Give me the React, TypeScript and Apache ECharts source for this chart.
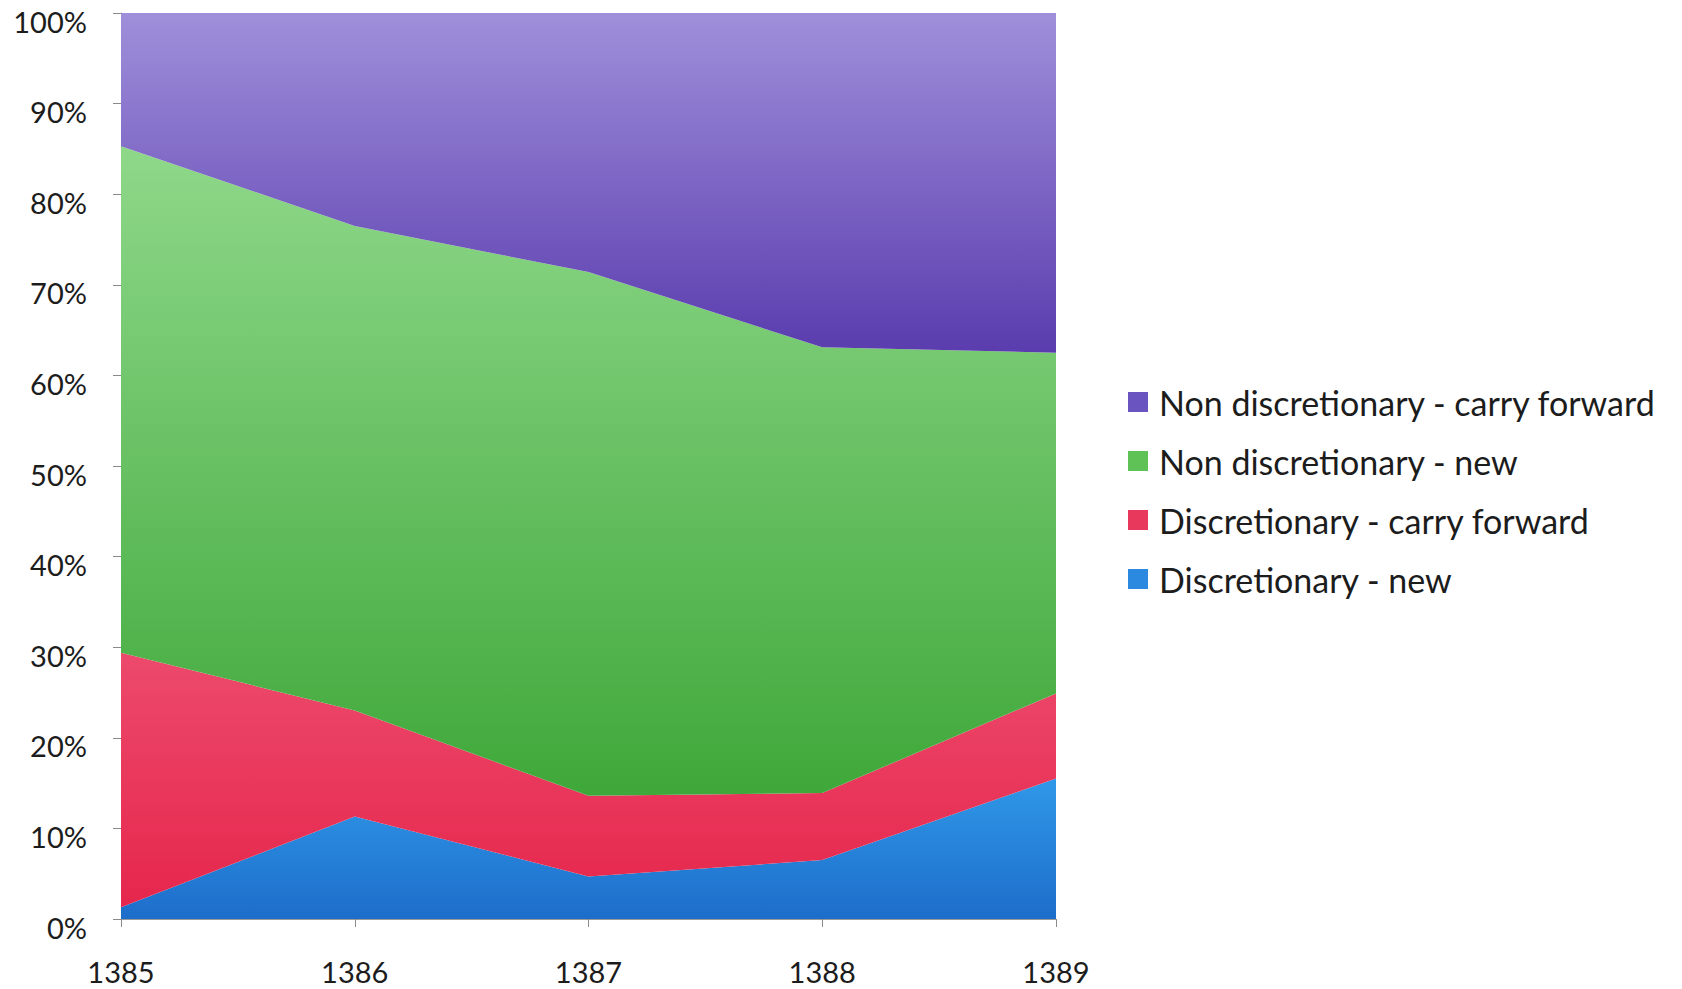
import React, { useEffect, useRef } from "react";
import * as echarts from "echarts";

const categories = ["1385", "1386", "1387", "1388", "1389"];
const seriesNames = [
  "Discretionary - new",
  "Discretionary - carry forward",
  "Non discretionary - new",
  "Non discretionary - carry forward",
];
const discNew = [1.3, 11.3, 4.7, 6.5, 15.5];
const discCarry = [28.1, 11.7, 8.9, 7.4, 9.4];
const nonDiscNew = [55.9, 53.5, 57.8, 49.2, 37.6];
const nonDiscCarry = [14.7, 23.5, 28.6, 36.9, 37.5];
const seriesValues = [discNew, discCarry, nonDiscNew, nonDiscCarry];

const solidColors = ["#2b8ae0", "#e8395c", "#5fc257", "#6a55c0"];
const gradientStops: [string, string][] = [
  ["#3098e8", "#1d6dca"],
  ["#ec4a6c", "#e6264c"],
  ["#8fd88a", "#3fa83a"],
  ["#9f8fda", "#5a3cae"],
];

export default function App() {
  const ref = useRef<HTMLDivElement>(null);
  useEffect(() => {
    document.body.style.margin = "0";
    const chart = echarts.init(ref.current!, undefined, { renderer: "svg" });
    const font = "Lato";
    chart.setOption({
      animation: false,
      backgroundColor: "#ffffff",
      grid: { left: 121, right: 626, top: 13, bottom: 70, containLabel: false },
      legend: {
        orient: "vertical",
        left: 1128,
        top: 385,
        padding: 0,
        icon: "rect",
        itemWidth: 20,
        itemHeight: 20,
        itemGap: 25,
        data: [...seriesNames].reverse(),
        textStyle: {
          fontFamily: font,
          fontSize: 34,
          lineHeight: 34,
          color: "#1c1c1c",
          padding: [0, 0, 0, 6],
        },
      },
      xAxis: {
        type: "category",
        boundaryGap: false,
        data: categories,
        axisLine: { show: true, lineStyle: { color: "#9a9a9a", width: 1 } },
        axisTick: { show: true, length: 8, lineStyle: { color: "#8a8a8a" } },
        axisLabel: {
          fontFamily: font,
          fontSize: 29,
          color: "#1c1c1c",
          margin: 38,
        },
        splitLine: { show: false },
      },
      yAxis: {
        type: "value",
        min: 0,
        max: 100,
        interval: 10,
        axisLine: { show: true, lineStyle: { color: "#9a9a9a", width: 1 } },
        axisTick: { show: true, length: 8, lineStyle: { color: "#8a8a8a" } },
        axisLabel: {
          fontFamily: font,
          fontSize: 29,
          color: "#1c1c1c",
          margin: 34,
          formatter: "{value}%",
          verticalAlign: "top",
          lineHeight: 16,
        },
        splitLine: { show: false },
      },
      series: seriesValues.map((vals, i) => ({
        name: seriesNames[i],
        type: "line",
        stack: "total",
        data: vals,
        color: solidColors[i],
        showSymbol: false,
        symbol: "none",
        lineStyle: { width: 0 },
        itemStyle: { color: solidColors[i] },
        areaStyle: {
          opacity: 1,
          color: new echarts.graphic.LinearGradient(0, 0, 0, 1, [
            { offset: 0, color: gradientStops[i][0] },
            { offset: 1, color: gradientStops[i][1] },
          ]),
        },
      })),
    });
    return () => chart.dispose();
  }, []);
  return (
    <div
      ref={ref}
      style={{ position: "absolute", left: 0, top: 0, width: 1682, height: 989 }}
    />
  );
}
